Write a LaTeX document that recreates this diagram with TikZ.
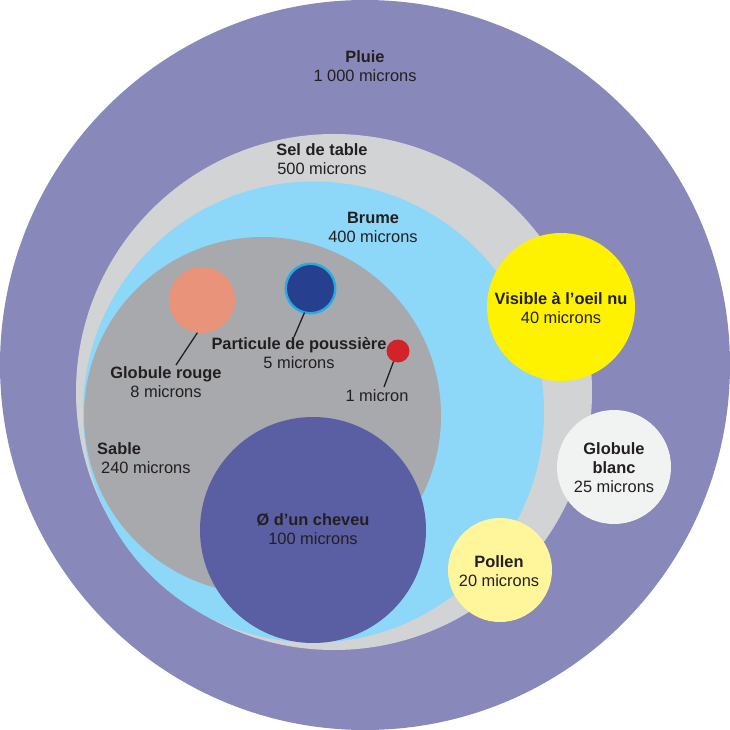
\documentclass[tikz,border=0pt]{standalone}
\usepackage{fontspec}
\setmainfont{Liberation Sans}
\definecolor{pluie}{HTML}{8888BA}
\definecolor{sel}{HTML}{D1D3D4}
\definecolor{brume}{HTML}{8DD8F8}
\definecolor{sable}{HTML}{A7A9AC}
\definecolor{cheveu}{HTML}{5A5FA3}
\definecolor{visible}{HTML}{FFF200}
\definecolor{blanc}{HTML}{F1F2F2}
\definecolor{pollen}{HTML}{FFF59B}
\definecolor{rouge}{HTML}{E8937A}
\definecolor{dust}{HTML}{263F8F}
\definecolor{dustrim}{HTML}{29ABE2}
\definecolor{micron}{HTML}{D2232A}
\definecolor{txt}{HTML}{231F20}
\begin{document}
\begin{tikzpicture}[x=1pt,y=-1pt,
  disc/.style={circle,inner sep=0pt,outer sep=0pt,draw=none},
  lbl/.style={align=center,text=txt,font=\fontsize{16.4}{19}\selectfont,inner sep=0pt},
  leader/.style={draw=txt,line width=1.3pt}]
\useasboundingbox (0,0) rectangle (730,730);
% circles
\node[disc,fill=pluie,minimum size=730pt] (pluie) at (365,365) {};
\node[disc,fill=sel,minimum size=516pt] (sel) at (334,392) {};
\node[disc,fill=brume,minimum size=461pt] (brume) at (313.5,412) {};
\node[disc,fill=sable,minimum size=357pt] (sable) at (262.5,415.5) {};
\node[disc,fill=cheveu,minimum size=226pt] (cheveu) at (313,530) {};
\node[disc,fill=visible,minimum size=148pt] (visible) at (561,307) {};
\node[disc,fill=blanc,minimum size=114pt] (blanc) at (614,467) {};
\node[disc,fill=pollen,minimum size=104pt] (pollen) at (500,570) {};
\node[disc,fill=rouge,minimum size=66pt] (rouge) at (202,300) {};
\node[disc,fill=dust,draw=dustrim,line width=2.4pt,minimum size=49.5pt] (dust) at (310.5,288.5) {};
\node[disc,fill=micron,minimum size=23pt] (micron) at (398,351) {};
% leaders
\coordinate (rougeend) at (176,365);
\coordinate (dustend) at (294,337);
\coordinate (micronend) at (384,387);
\draw[leader] (rouge.-98) -- (rougeend);
\draw[leader] (dust.-104) -- (dustend);
\draw[leader] (micron.-113) -- (micronend);
% labels
\node[lbl] (tpluie) at (365,66.5) {\textbf{Pluie}\\1 000 microns};
\node[lbl] (tsel) at (322,159.5) {\textbf{Sel de table}\\500 microns};
\node[lbl] (tbrume) at (373,227.5) {\textbf{Brume}\\400 microns};
\node[lbl,align=left,anchor=west] (tsable) at (97,458.5) {\textbf{Sable}\\\hspace*{4pt}240 microns};
\node[lbl] (tcheveu) at (313,529.5) {\textbf{Ø d’un cheveu}\\100 microns};
\node[lbl] (tvisible) at (561,308.5) {\textbf{Visible à l’oeil nu}\\40 microns};
\node[lbl] (tblanc) at (614,468) {\textbf{Globule}\\\textbf{blanc}\\25 microns};
\node[lbl] (tpollen) at (499,571) {\textbf{Pollen}\\20 microns};
\node[lbl] (trouge) at (166,382.5) {\textbf{Globule rouge}\\8 microns};
\node[lbl] (tdust) at (299,353.5) {\textbf{Particule de poussière}\\5 microns};
\node[lbl] (tmicron) at (377,396) {1 micron};
\end{tikzpicture}
\end{document}
